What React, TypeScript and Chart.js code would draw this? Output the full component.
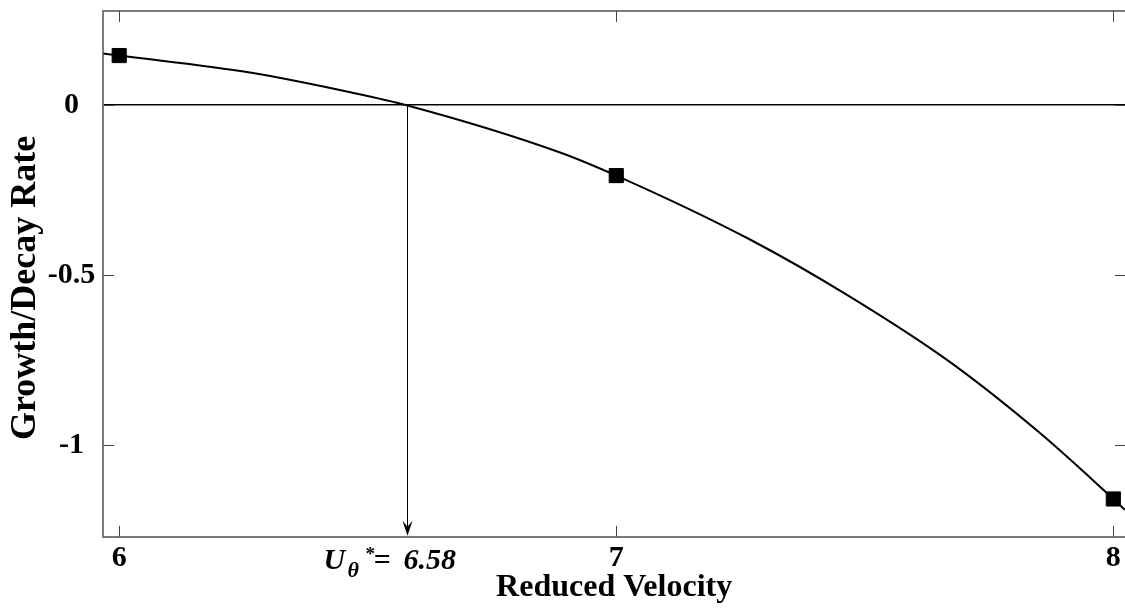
import React, { useEffect, useRef } from 'react';
import { Chart, registerables } from 'chart.js';

Chart.register(...registerables);

// ---- data ----
const curveX = [5.968, 6.0, 6.263, 6.465, 6.578, 6.887, 7.0, 7.269, 7.47, 7.671, 7.853, 8.0, 8.0235];
const curveY = [0.152, 0.146, 0.096, 0.038, 0.0, -0.139, -0.207, -0.395, -0.563, -0.755, -0.965, -1.158, -1.19];
const markerX = [6, 7, 8];
const markerY = [0.146, -0.207, -1.158];
const xTicks = [6, 7, 8];
const yTicks = [-1, -0.5, 0];
const criticalU = 6.58;
const criticalLabel = '6.58';
const xMin = 5.968;
const xMax = 8.0235;
const yMin = -1.269;
const yMax = 0.277;
const xTitle = 'Reduced Velocity';
const yTitle = 'Growth/Decay Rate';

const FONT = '"Liberation Serif", "Times New Roman", serif';
const AXIS_GRAY = '#7a7a7a';

const decorPlugin = {
  id: 'decor',
  beforeDatasetsDraw(chart: any) {
    const { ctx, chartArea: a, scales } = chart;
    const x = scales.x;
    const y = scales.y;
    ctx.save();
    // top frame line
    ctx.strokeStyle = AXIS_GRAY;
    ctx.lineWidth = 2;
    ctx.beginPath();
    ctx.moveTo(a.left, a.top);
    ctx.lineTo(a.right, a.top);
    ctx.stroke();
    // inward tick marks
    ctx.lineWidth = 1;
    ctx.strokeStyle = '#444';
    const tl = 11;
    for (const v of xTicks) {
      const px = Math.round(x.getPixelForValue(v)) + 0.5;
      ctx.beginPath();
      ctx.moveTo(px, a.bottom);
      ctx.lineTo(px, a.bottom - tl);
      ctx.moveTo(px, a.top);
      ctx.lineTo(px, a.top + tl);
      ctx.stroke();
    }
    for (const v of yTicks) {
      const py = Math.round(y.getPixelForValue(v)) + 0.5;
      ctx.beginPath();
      ctx.moveTo(a.left, py);
      ctx.lineTo(a.left + tl, py);
      ctx.moveTo(a.right + 1, py);
      ctx.lineTo(a.right + 1 - tl, py);
      ctx.stroke();
    }
    // arrow from the zero crossing down to the axis
    const ax = Math.round(x.getPixelForValue(criticalU)) + 0.5;
    const y0 = y.getPixelForValue(0);
    const yb = a.bottom - 1;
    ctx.strokeStyle = '#000';
    ctx.fillStyle = '#000';
    ctx.lineWidth = 1;
    ctx.beginPath();
    ctx.moveTo(ax, y0);
    ctx.lineTo(ax, yb - 6);
    ctx.stroke();
    ctx.beginPath();
    ctx.moveTo(ax, yb);
    ctx.lineTo(ax - 5, yb - 15);
    ctx.lineTo(ax, yb - 9);
    ctx.lineTo(ax + 5, yb - 15);
    ctx.closePath();
    ctx.fill();
    ctx.restore();
  },
  afterDraw(chart: any) {
    const { ctx, chartArea: a, scales } = chart;
    const x = scales.x;
    ctx.save();
    ctx.fillStyle = '#000';
    ctx.textBaseline = 'alphabetic';
    ctx.textAlign = 'left';
    // U_theta^* = 6.58 label under the arrow
    const cx = x.getPixelForValue(criticalU);
    const base = a.bottom + 32;
    ctx.font = `italic bold 30px ${FONT}`;
    ctx.fillText('U', cx - 84, base);
    ctx.font = `italic bold 22px ${FONT}`;
    ctx.fillText('\u03B8', cx - 60, base + 8);
    ctx.font = `bold 19px ${FONT}`;
    ctx.fillText('*', cx - 42, base - 9);
    ctx.font = `italic bold 30px ${FONT}`;
    ctx.fillText('=', cx - 34, base);
    ctx.fillText(criticalLabel, cx - 4, base);
    // y axis title
    ctx.translate(35, (a.top + a.bottom) / 2 + 14);
    ctx.rotate(-Math.PI / 2);
    ctx.textAlign = 'center';
    ctx.font = `bold 36px ${FONT}`;
    ctx.fillText(yTitle, 0, 0);
    ctx.restore();
  },
};

export default function App() {
  const canvasRef = useRef<HTMLCanvasElement | null>(null);

  useEffect(() => {
    const canvas = canvasRef.current;
    if (!canvas) return;
    const curve = curveX.map((v, i) => ({ x: v, y: curveY[i] }));
    const markers = markerX.map((v, i) => ({ x: v, y: markerY[i] }));
    const chart = new Chart(canvas, {
      type: 'scatter',
      data: {
        datasets: [
          {
            data: curve,
            showLine: true,
            borderColor: '#000',
            borderWidth: 2,
            pointRadius: 0,
            cubicInterpolationMode: 'monotone',
          } as any,
          {
            data: markers,
            showLine: false,
            pointStyle: 'rect',
            pointRadius: 10,
            backgroundColor: '#000',
            borderColor: '#000',
            borderWidth: 1,
          } as any,
        ],
      },
      options: {
        responsive: false,
        animation: false,
        devicePixelRatio: 1,
        layout: { autoPadding: false, padding: { top: 11, left: 0, right: 0, bottom: 0 } },
        plugins: { legend: { display: false }, tooltip: { enabled: false } },
        scales: {
          x: {
            type: 'linear',
            min: xMin,
            max: xMax,
            afterBuildTicks: (s: any) => {
              s.ticks = xTicks.map((v) => ({ value: v }));
            },
            afterFit: (s: any) => {
              s.height = 75.3;
              s.paddingLeft = 0;
              s.paddingRight = 0;
            },
            grid: { display: false, drawTicks: false },
            border: { display: true, color: AXIS_GRAY, width: 2 },
            ticks: {
              padding: 4,
              color: '#000',
              font: { family: FONT, size: 30, weight: 'bold' },
              callback: (v: any) => String(v),
              maxRotation: 0,
              autoSkip: false,
            },
            title: {
              display: true,
              text: xTitle,
              color: '#000',
              font: { family: FONT, size: 32, weight: 'bold' },
              padding: { top: 0, bottom: 5 },
            },
          },
          y: {
            type: 'linear',
            min: yMin,
            max: yMax,
            afterBuildTicks: (s: any) => {
              s.ticks = yTicks.map((v) => ({ value: v }));
            },
            afterFit: (s: any) => {
              s.width = 103.3;
              s.paddingTop = 0;
              s.paddingBottom = 0;
            },
            grid: {
              display: true,
              drawTicks: false,
              lineWidth: 1.5,
              color: (c: any) => (c.tick && c.tick.value === 0 ? '#000' : 'rgba(0,0,0,0)'),
            },
            border: { display: true, color: AXIS_GRAY, width: 2 },
            ticks: {
              padding: 8,
              crossAlign: 'center',
              color: '#000',
              font: { family: FONT, size: 30, weight: 'bold' },
              callback: (v: any) => String(v),
            },
            title: { display: false },
          },
        },
      } as any,
      plugins: [decorPlugin],
    });
    return () => chart.destroy();
  }, []);

  return (
    <div style={{ position: 'fixed', left: 0, top: 0, width: 1125, height: 612, background: '#fff' }}>
      <canvas ref={canvasRef} width={1125} height={612} style={{ display: 'block' }} />
    </div>
  );
}
